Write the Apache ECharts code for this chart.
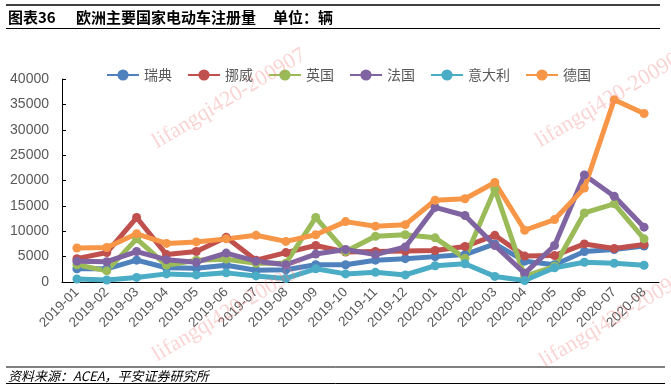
<!DOCTYPE html>
<html>
<head>
<meta charset="utf-8">
<script src="https://cdn.jsdelivr.net/npm/echarts@6/dist/echarts.min.js"></script>
<style>
html,body{margin:0;padding:0;background:#fff;}
#chart{width:671px;height:390px;}
</style>
</head>
<body>
<div id="chart"></div>
<script>
const categories = ['2019-01','2019-02','2019-03','2019-04','2019-05','2019-06','2019-07','2019-08','2019-09','2019-10','2019-11','2019-12','2020-01','2020-02','2020-03','2020-04','2020-05','2020-06','2020-07','2020-08'];
const sweden  = [2600, 2600, 4300, 2800, 2700, 3300, 2300, 2400, 3400, 3400, 4300, 4600, 5000, 5400, 7500, 4100, 3400, 6000, 6400, 7100];
const norway  = [4600, 5800, 12700, 5400, 6000, 8800, 4300, 5800, 7200, 5900, 6000, 6100, 6200, 7000, 9200, 5100, 5200, 7500, 6600, 7400];
const uk      = [3400, 2200, 8500, 3300, 4300, 4500, 3700, 3700, 12700, 6000, 9000, 9300, 8700, 4700, 18300, 1100, 3100, 13600, 15400, 8500];
const france  = [4100, 4000, 6000, 4400, 3900, 5700, 4100, 3400, 5500, 6400, 5400, 6900, 14700, 13100, 7200, 1700, 7200, 21100, 16900, 10800];
const italy   = [600, 400, 900, 1600, 1400, 1800, 1200, 700, 2600, 1600, 1900, 1400, 3200, 3600, 1100, 300, 2800, 3900, 3700, 3300];
const germany = [6700, 6800, 9500, 7600, 7900, 8500, 9200, 8000, 9300, 11900, 11000, 11300, 16100, 16400, 19600, 10200, 12300, 18500, 35900, 33200];
const seriesNames = ['瑞典','挪威','英国','法国','意大利','德国'];
const seriesData = [sweden, norway, uk, france, italy, germany];
const colors = ['#4F81BD','#C0504D','#9BBB59','#8064A2','#4BACC6','#F79646'];
const yTicks = [0, 5000, 10000, 15000, 20000, 25000, 30000, 35000, 40000];

const chart = echarts.init(document.getElementById('chart'), null, {renderer:'canvas'});
const wmText = 'lifangqi420-200907';
const wmPositions = [[160,153],[160,366],[543,152],[547,372]];
const wm = wmPositions.map(p => ({
  type:'text', x:p[0], y:p[1], rotation: Math.PI*31/180, z:100, silent:true,
  style:{text:wmText, fill:'rgba(240,120,120,0.33)', font:'22px "Liberation Serif", serif', align:'left', verticalAlign:'bottom'}
}));
const option = {
  animation:false,
  color: colors,
  graphic: [
    {type:'line', shape:{x1:6,y1:5,x2:660,y2:5}, style:{stroke:'#000',lineWidth:1.5}},
    {type:'line', shape:{x1:6,y1:28.5,x2:660,y2:28.5}, style:{stroke:'#000',lineWidth:1}},
    {type:'text', x:8, y:17, style:{text:'图表36', fill:'#000', font:'bold 15px "Noto Sans CJK SC", sans-serif', verticalAlign:'middle'}},
    {type:'text', x:76, y:17, style:{text:'欧洲主要国家电动车注册量', fill:'#000', font:'bold 15px "Noto Sans CJK SC", sans-serif', verticalAlign:'middle'}},
    {type:'text', x:273, y:17, style:{text:'单位：辆', fill:'#000', font:'bold 15px "Noto Sans CJK SC", sans-serif', verticalAlign:'middle'}},
    {type:'line', shape:{x1:6,y1:367,x2:665,y2:367}, style:{stroke:'#000',lineWidth:1}},
    {type:'line', shape:{x1:6,y1:383.5,x2:665,y2:383.5}, style:{stroke:'#000',lineWidth:1}},
    {type:'text', x:8, y:376, style:{text:'资料来源：ACEA，平安证券研究所', fill:'#000', font:'italic 13px "Noto Sans CJK SC", sans-serif', verticalAlign:'middle'}}
  ].concat(wm),
  legend: {
    left: 101, top: 63,
    itemWidth: 32, itemHeight: 14, itemGap: 15,
    textStyle:{color:'#595959', fontSize:14, fontFamily:'"Noto Sans CJK SC", sans-serif'},
    data: seriesNames
  },
  grid: {left:62, right:12, top:79, bottom:108},
  xAxis: {
    type:'category', data: categories, boundaryGap:true,
    axisLine:{lineStyle:{color:'#000', width:1}},
    axisTick:{inside:true, length:4, lineStyle:{color:'#000'}},
    axisLabel:{rotate:45, color:'#595959', fontSize:13.5, fontFamily:'"Liberation Sans", Arial, sans-serif', margin:8}
  },
  yAxis: {
    type:'value', min:0, max:40000, interval:5000,
    axisLine:{show:true, lineStyle:{color:'#000', width:1}},
    axisTick:{show:true, inside:true, length:4, lineStyle:{color:'#000'}},
    splitLine:{show:false},
    axisLabel:{color:'#595959', fontSize:14, fontFamily:'"Liberation Sans", Arial, sans-serif', margin:13,
      formatter: v => yTicks.indexOf(v) >= 0 ? String(v) : ''}
  },
  series: seriesNames.map((n,i) => ({
    name:n, type:'line', data: seriesData[i],
    symbol:'circle', symbolSize:9,
    lineStyle:{width:5, color:colors[i]},
    itemStyle:{color:colors[i]}
  }))
};
chart.setOption(option);
</script>
</body>
</html>
